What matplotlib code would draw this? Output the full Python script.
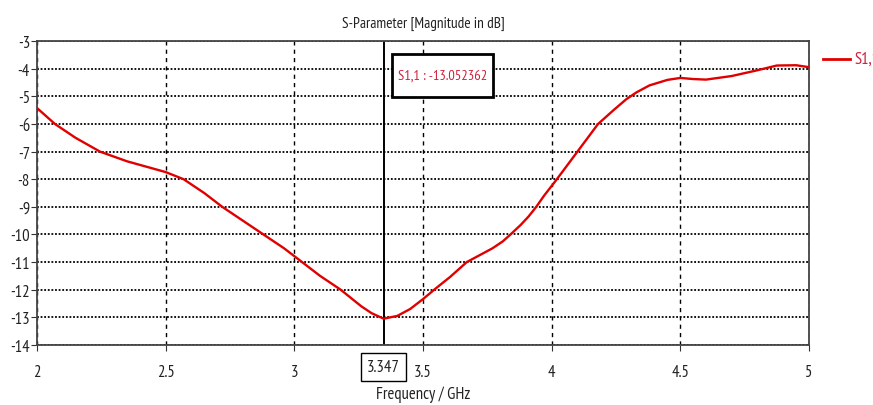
import matplotlib
matplotlib.use('Agg')
import matplotlib.pyplot as plt
from matplotlib import font_manager
from matplotlib.patches import Rectangle

# S11
freq = [2.00, 2.07, 2.15, 2.245, 2.35, 2.50, 2.57, 2.65, 2.72, 2.80, 2.88, 2.96,
        3.03, 3.10, 3.18, 3.26, 3.30, 3.347, 3.40, 3.45, 3.50, 3.55, 3.605, 3.64, 3.67,
        3.72, 3.77, 3.81, 3.84, 3.88, 3.91, 3.94, 3.97, 4.02, 4.10, 4.18, 4.24, 4.29, 4.33, 4.38, 4.45,
        4.50, 4.55, 4.60, 4.70, 4.80, 4.875, 4.95, 5.00]
s11 = [-5.42, -6.0, -6.5, -7.0, -7.35, -7.74, -8.0, -8.5, -9.0, -9.5, -10.0, -10.5,
       -11.0, -11.5, -12.0, -12.6, -12.85, -13.05, -12.95, -12.7, -12.34, -11.95, -11.54, -11.25, -11.0,
       -10.75, -10.5, -10.25, -10.0, -9.65, -9.35, -9.0, -8.6, -8.0, -7.0, -6.0, -5.5, -5.1, -4.85, -4.6, -4.4,
       -4.33, -4.37, -4.39, -4.26, -4.05, -3.88, -3.87, -3.94]
xticks = [2, 2.5, 3, 3.5, 4, 4.5, 5]
xtick_labels = ['2', '2.5', '3', '3.5', '4', '4.5', '5']
yticks = list(range(-14, -2))
marker_f = 3.347
marker_val = -13.052362

# pick a narrow font if there is one
installed = set(f.name for f in font_manager.fontManager.ttflist)
narrow = [n for n in ['Liberation Sans Narrow', 'Arial Narrow', 'PT Sans Narrow',
                      'Archivo Narrow', 'Roboto Condensed', 'Open Sans Condensed']
          if n in installed]
if narrow:
    plt.rcParams['font.family'] = [narrow[0], 'DejaVu Sans']
    fs = 12
else:
    plt.rcParams['font.family'] = ['DejaVu Sans']
    plt.rcParams['font.stretch'] = 'condensed'
    fs = 11
plt.rcParams['font.size'] = fs
plt.rcParams['axes.unicode_minus'] = False

fig = plt.figure(figsize=(8.73, 4.06), dpi=100)
ax = fig.add_axes([0.0424, 0.148, 0.8843, 0.748])

ax.plot(freq, s11, color='#e00000', lw=1.7, zorder=3)
ax.set_xlim(2, 5)
ax.set_ylim(-14, -3)
ax.set_xticks(xticks)
ax.set_xticklabels(xtick_labels)
ax.set_yticks(yticks)
ax.tick_params(direction='out', length=4, color='#333333', pad=10, labelcolor='#222222')
ax.tick_params(axis='y', pad=1)

# grid: dotted horizontal, dashed vertical
for y in yticks:
    ax.axhline(y, color='black', ls=(0, (1, 1)), lw=1.3, zorder=0)
for x in xticks:
    ax.axvline(x, color='black', ls=(0, (3, 3)), lw=1.0, zorder=0)

for s in ax.spines.values():
    s.set_color('#444444')
    s.set_linewidth(1.3)

# marker line + value box
ax.axvline(marker_f, color='black', lw=1.4, zorder=2)
ax.add_patch(Rectangle((0.460, 0.817), 0.131, 0.141, transform=ax.transAxes,
                       fc='white', ec='black', lw=2, zorder=4))
ax.text(0.5255, 0.887, f'S1,1 : {marker_val:.6f}', color='#d0203a', fontsize=fs - 1.6,
        va='center', ha='center', transform=ax.transAxes, zorder=5)
ax.text(marker_f, -14.8, f'{marker_f}', ha='center', va='center', fontsize=fs,
        color='#222222',
        bbox=dict(boxstyle='square,pad=0.35', fc='white', ec='black', lw=1))

ax.set_title('S-Parameter [Magnitude in dB]', fontsize=fs - 1, pad=10, color='#222222')
ax.set_xlabel('Frequency / GHz', labelpad=4, color='#222222')

# legend at right, clipped by the figure edge
fig.lines.append(plt.Line2D([0.943, 0.974], [0.852, 0.852], color='#e00000', lw=2,
                            transform=fig.transFigure))
fig.text(0.979, 0.852, 'S1,1', color='#d0203a', va='center', ha='left', fontsize=fs)

fig.savefig('out.png', dpi=100)
